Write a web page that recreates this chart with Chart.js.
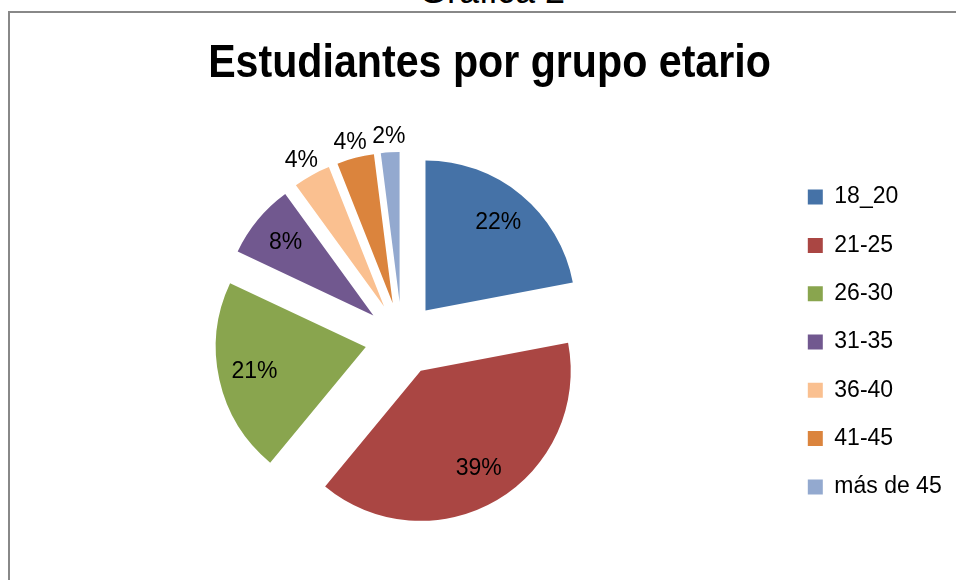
<!DOCTYPE html>
<html>
<head>
<meta charset="utf-8">
<title>Estudiantes por grupo etario</title>
<script src="https://cdn.jsdelivr.net/npm/chart.js@4.4.0/dist/chart.umd.min.js"></script>
<style>
  html, body { margin: 0; padding: 0; background: #fff; overflow: hidden; }
  body { width: 956px; height: 580px; position: relative; }
  #caption {
    position: absolute; left: 0; top: -27.5px; width: 984px;
    text-align: center; font: 36px/36px "Liberation Sans", Arial, sans-serif; color: #000;
  }
  #frame {
    position: absolute; left: 8px; top: 11px; width: 1000px; height: 1000px;
    border-left: 2px solid #888; border-top: 2px solid #888;
  }
  #wrap { position: absolute; left: 0; top: 0; width: 956px; height: 580px; }
</style>
</head>
<body>
<div id="caption">Gráfica 2</div>
<div id="frame"></div>
<div id="wrap"><canvas id="chart"></canvas></div>
<script>
// data (percent of students per age group)
const categories = ['18_20', '21-25', '26-30', '31-35', '36-40', '41-45', 'más de 45'];
const percents = [22, 39, 21, 8, 4, 4, 2];
const sliceColors = ['#4572A7', '#AA4643', '#89A54E', '#71588F', '#FAC090', '#DB843D', '#93A9CF'];
const chartTitle = 'Estudiantes por grupo etario';

const EXPLODE = 37;     // how far every slice is pulled out
const PIE_RADIUS = 150;
const labelFont = '23px "Liberation Sans", Arial, sans-serif';

// draw each arc shifted along its middle angle (Excel style exploded pie)
const explodePlugin = {
  id: 'explode',
  beforeDatasetDraw(chart, args) {
    const ctx = chart.ctx;
    args.meta.data.forEach(arc => {
      const mid = (arc.startAngle + arc.endAngle) / 2;
      ctx.save();
      ctx.translate(Math.cos(mid) * EXPLODE, Math.sin(mid) * EXPLODE);
      arc.draw(ctx);
      ctx.restore();
    });
    return false;
  }
};

// percentage labels: inside for big slices, just outside for small ones
const pctLabels = {
  id: 'pctLabels',
  afterDatasetsDraw(chart) {
    const ctx = chart.ctx;
    const meta = chart.getDatasetMeta(0);
    const values = chart.data.datasets[0].data;
    const total = values.reduce((a, b) => a + b, 0);
    ctx.save();
    ctx.font = labelFont;
    ctx.fillStyle = '#000';
    ctx.textAlign = 'center';
    ctx.textBaseline = 'middle';
    meta.data.forEach((arc, i) => {
      const mid = (arc.startAngle + arc.endAngle) / 2;
      const dx = Math.cos(mid), dy = Math.sin(mid);
      const ax = arc.x + dx * EXPLODE, ay = arc.y + dy * EXPLODE;
      const txt = Math.round(values[i] / total * 100) + '%';
      const r = arc.outerRadius;
      let x, y;
      if (values[i] / total >= 0.06) {
        x = ax + dx * r * 0.76;
        y = ay + dy * r * 0.76;
      } else {
        const w = ctx.measureText(txt).width;
        x = ax + dx * (r + 5) + dx * w / 2;
        y = ay + dy * (r + 5) + dy * 11;
      }
      ctx.fillText(txt, x, y);
    });
    ctx.restore();
  }
};

// the title in the picture is a narrow bold face; squeeze a bold sans to match
const narrowTitle = {
  id: 'narrowTitle',
  afterDraw(chart) {
    const ctx = chart.ctx;
    ctx.save();
    ctx.font = 'bold 47px "Liberation Sans", Arial, sans-serif';
    ctx.fillStyle = '#000';
    ctx.textAlign = 'center';
    ctx.textBaseline = 'alphabetic';
    ctx.translate(489.5, 77);
    ctx.scale(0.876, 1);
    ctx.fillText(chartTitle, 0, 0);
    ctx.restore();
  }
};

const ctx = document.getElementById('chart').getContext('2d');
new Chart(ctx, {
  type: 'pie',
  data: {
    labels: categories,
    datasets: [{
      data: percents,
      backgroundColor: sliceColors,
      borderWidth: 0,
      radius: PIE_RADIUS,
      clip: false
    }]
  },
  options: {
    responsive: true,
    maintainAspectRatio: false,
    animation: false,
    layout: { padding: { left: 21.3, right: 4.3, top: 98, bottom: 0 } },
    plugins: {
      title: { display: false },
      legend: {
        position: 'right',
        fullSize: false,
        title: { display: true, text: '', font: { size: 6, lineHeight: 1 }, padding: 0 },
        labels: {
          boxWidth: 15,
          boxHeight: 15,
          padding: 25.3,
          color: '#000',
          font: { family: '"Liberation Sans", Arial, sans-serif', size: 23 }
        }
      },
      tooltip: { enabled: false }
    }
  },
  plugins: [explodePlugin, pctLabels, narrowTitle]
});
</script>
</body>
</html>
